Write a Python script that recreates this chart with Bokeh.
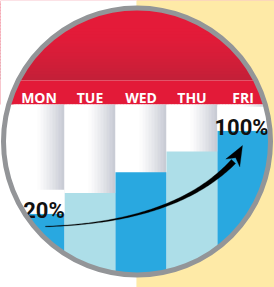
import numpy as np
from bokeh.plotting import figure
from bokeh.models import Range1d
from bokeh.core.properties import value
from bokeh.embed import file_html
from bokeh.resources import INLINE

# ---------------- data ----------------
days = ["MON", "TUE", "WED", "THU", "FRI"]
values = [20, 40, 60, 80, 100]
bar_colors = ["#29A8E0", "#ADDEE8", "#29A8E0", "#ADDEE8", "#29A8E0"]
label_days = ["MON", "FRI"]
label_texts = ["20%", "100%"]
label_dx = [5.0, -1.5]

# ---------------- layout (reference pixel units) ----------------
W, H = 274, 287
Y0PIX = 234.0      # pixel row where value 0 sits
PPV = 1.0375       # pixels per value unit


def vy(py):
    return (Y0PIX - np.asarray(py, dtype=float)) / PPV


CX, CY = 136.5, 141.0
R_OUT = 136.0
RING_W = 5.0
COL0, COL_STEP, COL_W = 38.5, 51.0, 51.0
BAND_TOP, BAND_BOT = 80.0, 104.0
BOTTOM_PIX = 300.0

RED = "#E31A38"
YELLOW = "#FEEAA7"
RING = "#939598"

xs = [COL0 + i * COL_STEP for i in range(len(days))]

p = figure(width=W, height=H, x_range=Range1d(0, W), y_range=Range1d(float(vy(H)), float(vy(0))),
           output_backend="svg", toolbar_location=None, min_border=0,
           x_axis_location=None, y_axis_location=None)
p.grid.visible = False
p.outline_line_color = None
p.background_fill_color = "white"
p.border_fill_color = "white"


def lerp(c1, c2, f):
    return "#%02X%02X%02X" % tuple(int(round(a + (b - a) * f)) for a, b in zip(c1, c2))


# upper red with a soft darkening toward the label band
n = 26
tops, bots, cols = [], [], []
for k in range(n):
    y0 = k * BAND_TOP / n
    y1 = (k + 1) * BAND_TOP / n
    f = min(max(((y0 + y1) / 2 - 30) / 50, 0), 1) ** 1.3
    tops.append(float(vy(y0)))
    bots.append(float(vy(min(y1 + 1.5, BAND_TOP))))
    cols.append(lerp((228, 27, 57), (194, 32, 56), f))
p.quad(left=-5, right=280, top=tops, bottom=bots, color=cols, line_color=None)

# day label band
p.quad(left=-5, right=280, top=float(vy(BAND_TOP)), bottom=float(vy(BAND_BOT)), color=RED, line_color=None)

# column backgrounds (white to grey, left to right)
L, R_, C = [], [], []
m = 17
for xc in xs:
    x0 = xc - COL_W / 2
    for k in range(m):
        u = (k + 0.5) / m
        f = min(max((u - 0.45) / 0.55, 0), 1) ** 1.2
        L.append(x0 + k * COL_W / m)
        R_.append(min(x0 + (k + 1) * COL_W / m + 1.0, x0 + COL_W))
        C.append(lerp((255, 255, 255), (197, 200, 210), f))
p.quad(left=L, right=R_, top=float(vy(BAND_BOT)), bottom=float(vy(BOTTOM_PIX)), color=C, line_color=None)

# bars
p.vbar(x=xs, width=COL_W, top=values, bottom=float(vy(BOTTOM_PIX)), color=bar_colors, line_color=None)

# white boxes behind the value labels
lb_x, lb_top, lb_bot, lt_x, lt_y = [], [], [], [], []
for d, dx in zip(label_days, label_dx):
    i = days.index(d)
    v = values[i]
    lb_x.append(xs[i])
    lb_bot.append(v)
    lb_top.append(min(v + 24 / PPV, float(vy(BAND_BOT))))
    lt_x.append(xs[i] + dx)
    lt_y.append(v + 3.5 / PPV)
p.quad(left=[x - COL_W / 2 for x in lb_x], right=[x + COL_W / 2 for x in lb_x],
       top=lb_top, bottom=lb_bot, color="white", line_color=None)

# curved tapered arrow
P0 = np.array([45.0, 226.0])
P1 = np.array([175.0, 222.0])
P2 = np.array([233.0, 161.0])
t = np.linspace(0, 1, 70)
pts = ((1 - t) ** 2)[:, None] * P0 + (2 * (1 - t) * t)[:, None] * P1 + (t ** 2)[:, None] * P2
der = (2 * (1 - t))[:, None] * (P1 - P0) + (2 * t)[:, None] * (P2 - P1)
tang = der / np.linalg.norm(der, axis=1)[:, None]
nrm = np.stack([-tang[:, 1], tang[:, 0]], axis=1)
wd = 0.6 + 5.2 * t ** 1.5
lft = pts + nrm * (wd / 2)[:, None]
rgt = pts - nrm * (wd / 2)[:, None]
poly = np.vstack([lft, rgt[::-1]])
p.patch(poly[:, 0], vy(poly[:, 1]), color="black", line_color="black", line_width=0.3)

T = np.array([242.0, 145.0])
d = T - np.array([232.0, 163.0])
d = d / np.linalg.norm(d)
nn = np.array([-d[1], d[0]])
base = T - 20 * d
b1 = base + 8 * nn
b2 = base - 8 * nn
notch = T - 14 * d
head = np.array([T, b1, notch, b2])
p.patch(head[:, 0], vy(head[:, 1]), color="black", line_color="black", line_width=0.3)

# value labels
p.text(x=lt_x, y=lt_y, text=label_texts, text_font=value("Roboto"),
       text_font_style="bold", text_font_size="22px", text_color="#111111",
       text_align="center", text_baseline="alphabetic")

# day labels
p.text(x=xs, y=[float(vy(97))] * len(days), text=days, text_font=value("Open Sans"),
       text_font_style="bold", text_font_size="14px", text_color="white",
       text_align="center", text_baseline="alphabetic")

# mask outside the circle: white on the left, yellow on the right
ccy = float(vy(CY))
p.annular_wedge(x=CX, y=ccy, inner_radius=R_OUT - 1, outer_radius=420,
                start_angle=np.pi / 2, end_angle=3 * np.pi / 2, color="white", line_color=None)
p.annular_wedge(x=CX, y=ccy, inner_radius=R_OUT - 1, outer_radius=420,
                start_angle=-np.pi / 2 - 0.004, end_angle=np.pi / 2 + 0.004, color=YELLOW, line_color=None)

# grey ring
p.circle(x=CX, y=ccy, radius=R_OUT - RING_W / 2, fill_color=None, line_color=RING, line_width=RING_W)

open("out.html", "w").write(file_html(p, INLINE))
